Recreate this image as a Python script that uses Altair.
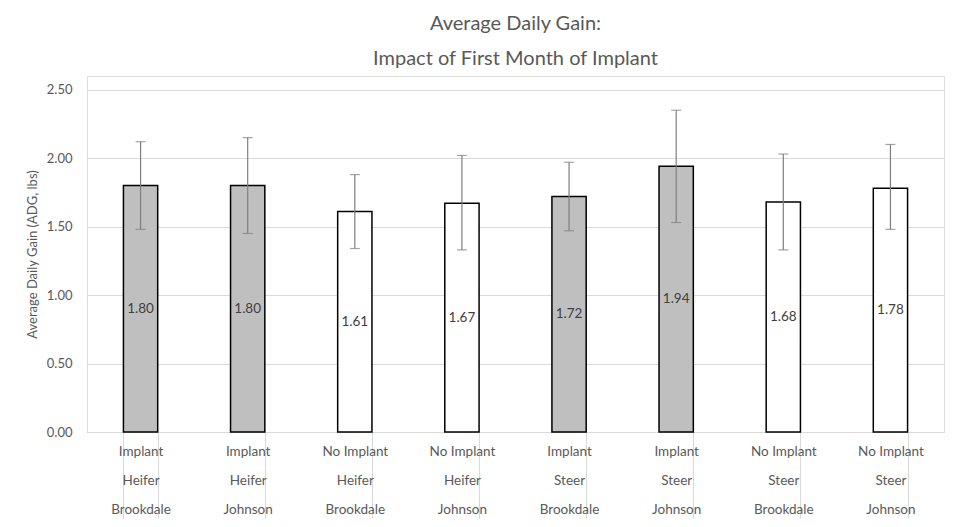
import altair as alt
import pandas as pd

treatment = ["Implant", "Implant", "No Implant", "No Implant", "Implant", "Implant", "No Implant", "No Implant"]
sex = ["Heifer", "Heifer", "Heifer", "Heifer", "Steer", "Steer", "Steer", "Steer"]
location = ["Brookdale", "Johnson", "Brookdale", "Johnson", "Brookdale", "Johnson", "Brookdale", "Johnson"]
adg = [1.80, 1.80, 1.61, 1.67, 1.72, 1.94, 1.68, 1.78]
err_low = [1.48, 1.45, 1.34, 1.33, 1.47, 1.53, 1.33, 1.48]
err_high = [2.12, 2.15, 1.88, 2.02, 1.97, 2.35, 2.03, 2.10]

cats = [f"{t}|{s}|{l}" for t, s, l in zip(treatment, sex, location)]
df = pd.DataFrame({
    "cat": cats,
    "treatment": treatment,
    "adg": adg,
    "half": [v / 2 for v in adg],
    "lo": err_low,
    "hi": err_high,
    "lbl": [f"{v:.2f}" for v in adg],
})

FONT = "Lato"
GREY = "#595959"

x = alt.X("cat:N", sort=cats, title=None,
          scale=alt.Scale(paddingInner=0.68, paddingOuter=0.34),
          axis=alt.Axis(labelExpr="split(datum.label, '|')", labelAngle=0,
                        labelFont=FONT, labelFontSize=13.5, labelColor=GREY,
                        labelLineHeight=29, labelPadding=-74, labelBaseline="top",
                        tickBand="extent", tickSize=86, tickColor="#d9d9d9",
                        domainColor="#d9d9d9", grid=False))

base = alt.Chart(df)

bars = base.mark_bar(stroke="black", strokeWidth=1.5).encode(
    x=x,
    y=alt.Y("adg:Q", title="Average Daily Gain (ADG, lbs)",
            scale=alt.Scale(domain=[0, 2.5]),
            axis=alt.Axis(values=[0, 0.5, 1.0, 1.5, 2.0, 2.5], format=".2f",
                          labelFont=FONT, labelFontSize=13, labelColor=GREY,
                          titleFont=FONT, titleFontSize=13, titleColor=GREY,
                          titleFontWeight="normal", titlePadding=7,
                          domain=False, ticks=False, labelPadding=15,
                          gridColor="#d9d9d9")),
    fill=alt.Fill("treatment:N", scale=alt.Scale(domain=["Implant", "No Implant"],
                                                  range=["#bfbfbf", "#ffffff"]), legend=None),
)

rules = base.mark_rule(color="#7f7f7f", strokeWidth=1.2).encode(
    x=alt.X("cat:N", sort=cats), y="lo:Q", y2="hi:Q")
cap_lo = base.mark_tick(color="#7f7f7f", thickness=1.2, size=10, orient="horizontal").encode(
    x=alt.X("cat:N", sort=cats), y="lo:Q")
cap_hi = base.mark_tick(color="#7f7f7f", thickness=1.2, size=10, orient="horizontal").encode(
    x=alt.X("cat:N", sort=cats), y="hi:Q")

labels = base.mark_text(font=FONT, fontSize=13.5, color="#404040").encode(
    x=alt.X("cat:N", sort=cats), y="half:Q", text="lbl:N")

chart = alt.layer(bars, rules, cap_lo, cap_hi, labels).properties(
    width=946, height=511,
    autosize=alt.AutoSizeParams(type="fit", contains="padding"),
    title=alt.TitleParams(["Average Daily Gain:", "Impact of First Month of Implant"],
                          font=FONT, fontSize=20, fontWeight="normal", color=GREY,
                          lineHeight=35, offset=7),
    padding={"left": 18, "top": 6, "right": 10, "bottom": 0},
).configure_view(stroke=None).configure(background="white")

chart.save("out.html", embed_options={"renderer": "svg", "actions": False})
